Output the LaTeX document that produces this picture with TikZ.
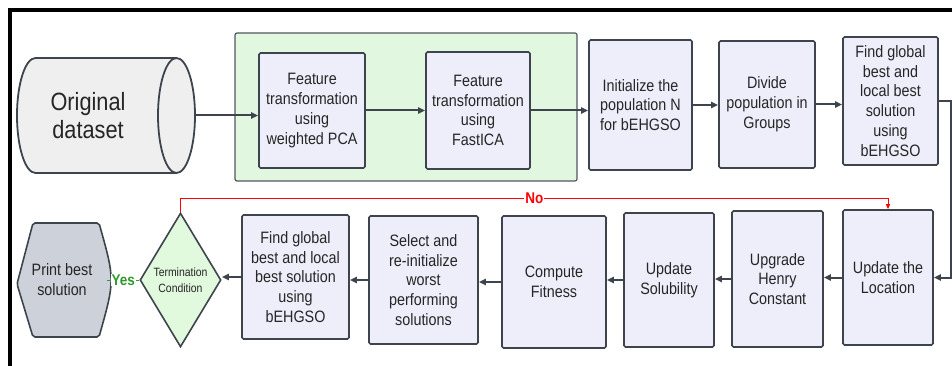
\documentclass[tikz,border=0pt]{standalone}
\usepackage{fontspec}
\setmainfont{Liberation Sans}[FakeStretch=0.87]
\usetikzlibrary{calc,arrows.meta,shapes.geometric}
\definecolor{boxfill}{HTML}{EEEEFB}
\definecolor{edge}{HTML}{3E444E}
\definecolor{grpfill}{HTML}{E2F7DF}
\definecolor{termfill}{HTML}{E1F9DD}
\definecolor{printfill}{HTML}{CDD1DA}
\definecolor{cylfill}{HTML}{EFEFEF}
\definecolor{yesgreen}{HTML}{2E9A2E}

\begin{document}
\begin{tikzpicture}[x=1pt,y=-1pt,text=black!85,
  box/.style={draw=edge,fill=boxfill,line width=1.6pt,rounded corners=1.5pt,align=center,inner sep=1pt,font=\fontsize{16.5}{19.8}\selectfont},
  wh/.style 2 args={minimum width=#1pt,minimum height=#2pt},
  arr/.style={draw=edge,line width=2pt,-{Triangle[length=7pt,width=6pt]}},
  lbl/.style={fill=white,inner sep=1pt,font=\bfseries\fontsize{15.5}{15.5}\selectfont}]
\useasboundingbox (0,0) rectangle (952,366);
\draw[line width=4pt] (10,366) -- (10,10.5) -- (952,10.5);

% input and first stage
\draw[draw=edge,fill=cylfill,line width=1.8pt] (35.5,58) arc (90:270:18.5pt and 57.5pt) -- (176.5,173) arc (-90:90:18.5pt and 57.5pt) -- cycle;
\draw[draw=edge,line width=1.8pt] (176.5,58) arc (90:270:18.5pt and 57.5pt);
\node[align=center,font=\fontsize{25}{28}\selectfont,minimum width=141pt,minimum height=115pt] (data) at (88,115.5) {Original\\dataset};

\node[draw=edge!90,fill=grpfill,line width=1.2pt,rounded corners=2pt,wh={342}{148}] (grp) at (406,107) {};
\node[box,wh={106}{115}] (pca) at (312,110.5) {Feature\\transformation\\using\\weighted PCA};
\node[box,wh={104}{117}] (ica) at (478,110.5) {Feature\\transformation\\using\\FastICA};
\node[box,wh={103}{130}] (init) at (640.5,105) {Initialize the\\population N\\for bEHGSO};
\node[box,wh={96}{127}] (divide) at (767,104.5) {Divide\\population in\\Groups};
\node[box,wh={95}{128}] (find) at (890.5,101) {Find global\\best and\\local best\\solution\\using\\bEHGSO};

% second row
\node[box,wh={90}{135}] (loc) at (888,277.5) {Update the\\Location};
\node[box,wh={91}{136}] (henry) at (777.5,279) {Upgrade\\Henry\\Constant};
\node[box,wh={90}{134}] (sol) at (669,280) {Update\\Solubility};
\node[box,wh={104}{132}] (fit) at (554,282) {Compute\\Fitness};
\node[box,wh={109}{128}] (sel) at (423.5,280) {Select and\\re-initialize\\worst\\performing\\solutions};
\node[box,wh={107}{124}] (find2) at (295.5,277) {Find global\\best and local\\best solution\\using\\bEHGSO};
\node[diamond,aspect=0.6,draw=edge,fill=termfill,line width=1.6pt,inner sep=0pt,align=center,
  wh={81}{134},font=\fontsize{12}{15.5}\selectfont] (term) at (180.5,280) {Termination\\Condition};

\draw[draw=edge,fill=printfill,line width=1.6pt,rounded corners=2pt] (17,284) -- (33,223) -- (99,223) .. controls (115,280) .. (99,337) -- (33,337) -- cycle;
\node[align=center,font=\fontsize{16.5}{19.8}\selectfont,wh={90}{114}] (print) at (62,280) {Print best\\solution};

% connectors
\draw[arr] ([xshift=37pt]data.east) -- (data.east -| pca.west);
\draw[arr] (pca.east) -- (pca.east -| ica.west);
\draw[arr] (ica.east) -- (ica.east -| init.west);
\draw[arr] (init.east) -- (init.east -| divide.west);
\draw[arr] (divide.east) -- (divide.east -| find.west);
\draw[arr] (find.east) -- ++(12,0) |- (loc.east);
\draw[arr] (loc.west) -- (loc.west -| henry.east);
\draw[arr] (henry.west) -- (henry.west -| sol.east);
\draw[arr] (sol.west) -- (sol.west -| fit.east);
\draw[arr] (fit.west) -- (fit.west -| sel.east);
\draw[arr] (sel.west) -- (sel.west -| find2.east);
\draw[arr] (find2.west) -- (find2.west -| term.east);

\draw[yesgreen,line width=1pt] (term.west) -- node[lbl] (yes) {Yes} (print.east);
\draw[red,line width=1pt,-{Triangle[length=5pt,width=4pt]}] (term.north) -- ++(0,-14) -| node[lbl,pos=0.25] (no) {No} (loc.north);

\end{tikzpicture}
\end{document}
